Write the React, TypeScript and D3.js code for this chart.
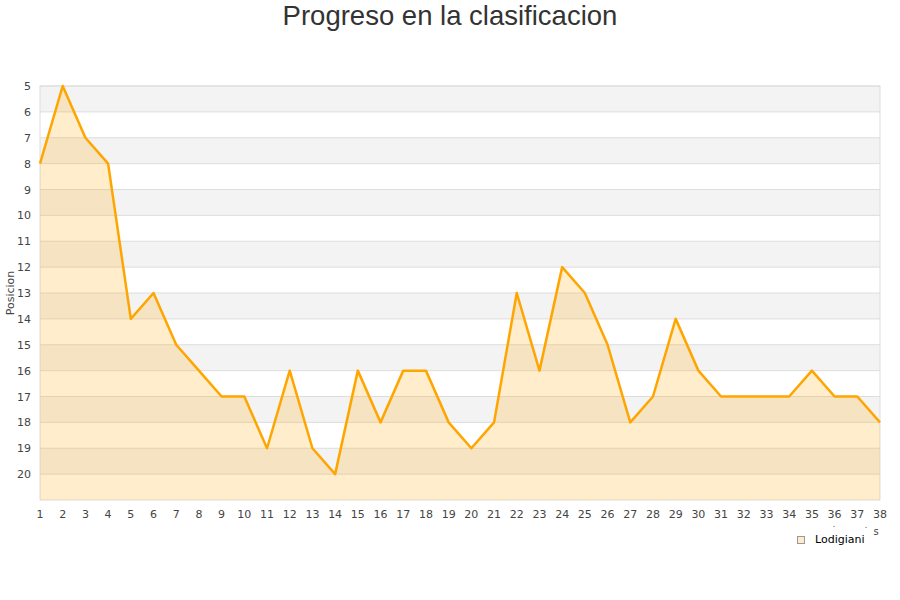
import React from "react";
import * as d3 from "d3";

const jornadas: number[] = Array.from({ length: 38 }, (_, i) => i + 1);
const posiciones: number[] = [
  8, 5, 7, 8, 14, 13, 15, 16, 17, 17, 19, 16, 19, 20, 16, 18, 16, 16, 18, 19,
  18, 13, 16, 12, 13, 15, 18, 17, 14, 16, 17, 17, 17, 17, 16, 17, 17, 18,
];
const yTicks: number[] = [5, 6, 7, 8, 9, 10, 11, 12, 13, 14, 15, 16, 17, 18, 19, 20];
const title = "Progreso en la clasificacion";
const seriesName = "Lodigiani";
const yLabel = "Posicion";

export default function App() {
  const W = 900, H = 600;
  const left = 40, right = 880, top = 86, bottom = 500;
  const x = d3.scaleLinear().domain([1, 38]).range([left, right]);
  const y = d3.scaleLinear().domain([5, 21]).range([top, bottom]);
  const data = jornadas.map((j, i) => ({ j, p: posiciones[i] }));
  const line = d3.line<{ j: number; p: number }>().x(d => x(d.j)).y(d => y(d.p));
  const area = d3
    .area<{ j: number; p: number }>()
    .x(d => x(d.j))
    .y0(bottom)
    .y1(d => y(d.p));
  const bands = d3.range(5, 21);
  const font = "DejaVu Sans, sans-serif";
  return (
    <svg width={W} height={H} style={{ position: "absolute", left: 0, top: 0 }}>
      <rect x={0} y={0} width={W} height={H} fill="#fff" />
      <text x={450} y={25} textAnchor="middle" fontFamily="Liberation Sans, Arial, sans-serif" fontSize={27.5} fill="#333">
        {title}
      </text>
      {bands.map(v => (
        <rect key={v} x={left} y={y(v)} width={right - left} height={y(v + 1) - y(v)} fill={(v - 5) % 2 === 0 ? "#f3f3f3" : "#ffffff"} />
      ))}
      {yTicks.map(v => (
        <line key={"g" + v} x1={left} x2={right} y1={y(v)} y2={y(v)} stroke="#dddddd" strokeWidth={1} />
      ))}
      <rect x={left} y={top} width={right - left} height={bottom - top} fill="none" stroke="#dddddd" />
      <path d={area(data) || ""} fill="rgba(255,165,0,0.2)" />
      <path d={line(data) || ""} fill="none" stroke="#ffa500" strokeWidth={2.5} strokeLinejoin="round" />
      {yTicks.map(v => (
        <text key={"y" + v} x={31} y={y(v) + 4} textAnchor="end" fontFamily={font} fontSize={11} fill="#444">
          {v}
        </text>
      ))}
      {jornadas.map(j => (
        <text key={"x" + j} x={x(j)} y={518} textAnchor="middle" fontFamily={font} fontSize={11} fill="#444">
          {j}
        </text>
      ))}
      <text transform={`translate(14,293) rotate(-90)`} textAnchor="middle" fontFamily={font} fontSize={11} fill="#444">
        {yLabel}
      </text>
      <text x={834} y={527} textAnchor="middle" fontFamily={font} fontSize={8} fill="#444">.</text>
      <text x={866} y={528} textAnchor="middle" fontFamily={font} fontSize={8} fill="#444">.</text>
      <text x={876} y={535} textAnchor="middle" fontFamily={font} fontSize={10} fill="#444">s</text>
      <rect x={797.5} y={536.5} width={7} height={7} fill="#ffeccc" stroke="#999" strokeWidth={1} />
      <text x={815} y={543} fontFamily={font} fontSize={11} fill="#000">
        {seriesName}
      </text>
    </svg>
  );
}
